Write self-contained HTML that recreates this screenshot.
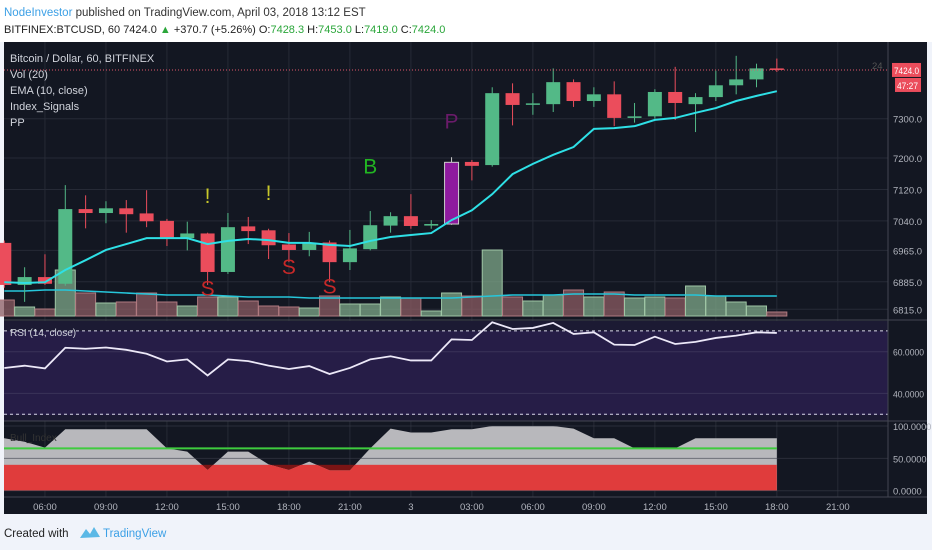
<!DOCTYPE html>
<html><head><meta charset="utf-8"><style>
html,body{margin:0;padding:0;background:#f0f3fa;width:932px;height:550px;overflow:hidden}
svg{display:block;font-family:"Liberation Sans",sans-serif}
</style></head><body>
<svg id="c" width="932" height="550" viewBox="0 0 932 550" xmlns="http://www.w3.org/2000/svg">
<rect x="0" y="0" width="932" height="42" fill="#ffffff"/>
<text x="4" y="16" font-size="11.5" fill="#333"><tspan fill="#3ca0e6">NodeInvestor</tspan> published on TradingView.com, April 03, 2018 13:12 EST</text>
<text x="4" y="33" font-size="11" fill="#222">BITFINEX:BTCUSD, 60  7424.0 <tspan fill="#2aa63a">▲</tspan> +370.7 (+5.26%)  O:<tspan fill="#2aa63a">7428.3</tspan>  H:<tspan fill="#2aa63a">7453.0</tspan>  L:<tspan fill="#2aa63a">7419.0</tspan>  C:<tspan fill="#2aa63a">7424.0</tspan></text>
<rect x="4" y="42" width="923" height="472" fill="#131722"/>
<g id="grid"></g>
<rect x="4" y="321" width="884" height="100" fill="#1c1a33"/>
<rect x="4" y="331" width="884" height="84" fill="#261d47"/>
<g id="plots"></g>
<line x1="4" y1="320" x2="927" y2="320" stroke="#434651"/>
<line x1="4" y1="421" x2="927" y2="421" stroke="#434651"/>
<line x1="4" y1="497" x2="927" y2="497" stroke="#434651"/>
<line x1="888" y1="42" x2="888" y2="497" stroke="#434651"/>
<g id="axes" font-size="9.5" fill="#b2b5be"></g>
<g font-size="11" fill="#d1d4dc">
<text x="10" y="62">Bitcoin / Dollar, 60, BITFINEX</text>
<text x="10" y="78">Vol (20)</text>
<text x="10" y="94">EMA (10, close)</text>
<text x="10" y="110">Index_Signals</text>
<text x="10" y="126">PP</text>
<text x="10" y="336" font-size="10">RSI (14, close)</text>
<text x="10" y="441" font-size="10" fill="#333">Bull_Index</text>
</g>
<text x="4" y="537" font-size="11.5" fill="#222">Created with</text>
<path d="M80 538 l6 -9 l4 5 l4 -7 l6 10 z" fill="#5bb8e6"/>
<text x="103" y="537" font-size="11.5" fill="#3ca0e6">TradingView</text>
</svg>
<script>
const opens=[6984,6877,6897,6880,7070,7060,7072,7059,7040,6996,7008,6910,7026,7016,6980,6966,6985,6935,6968,7028,7052,7028,7032,7190,7182,7365,7337,7337,7393,7345,7362,7302,7306,7368,7337,7355,7385,7400,7428];
const closes=[6877,6897,6880,7070,7060,7072,7057,7039,6996,7008,6910,7024,7014,6978,6966,6983,6935,6970,7029,7052,7027,7032,7189,7180,7365,7335,7339,7393,7345,7362,7302,7306,7368,7340,7355,7385,7400,7428,7424];
const highs=[6990,6922,6955,7131,7105,7090,7093,7118,7045,7038,7010,7060,7050,7020,7009,7012,6990,7017,7065,7062,7108,7042,7202,7195,7380,7390,7365,7428,7400,7380,7395,7340,7375,7432,7365,7422,7460,7440,7453];
const lows=[6870,6834,6877,6875,7021,7034,7010,7024,6976,6965,6877,6905,6981,6943,6935,6950,6884,6915,6965,7010,7020,7020,7030,7143,7178,7283,7310,7317,7330,7330,7281,7290,7300,7297,7266,7345,7362,7380,7419];
const ema=[6884,6882,6884,6915,6940,6966,6981,6996,6996,6996,6981,6989,6994,6991,6984,6984,6979,6976,6989,6999,7004,7009,7042,7067,7108,7159,7185,7208,7228,7274,7276,7281,7297,7302,7315,7327,7345,7358,7370];
const volume=[16,9,7,46,23,13,14,23,14,10,19,19,15,10,9,8,20,12,12,19,18,5,23,20,66,19,15,21,26,19,24,18,19,18,30,20,14,10,4];
const volMa=[25,25,26,26,25,24,23,22,21,21,21,20,19,19,19,18,18,18,18,18,18,18,18,19,20,21,21,21,22,22,22,21,21,21,21,20,20,20,20];
const rsi=[52.2,53.3,52,61.9,61.4,62,60.9,59,55.3,56.3,48.6,56.3,55.5,53.3,51.7,53.1,49.3,52.2,56.3,57.8,55.8,55.8,65.9,65.6,74.1,70.9,71.4,73.8,68.5,69.3,63.4,63.2,67.2,63.7,64.7,66.6,67.7,69.3,69];
const bull=[81,75.7,66.5,95,95,95,95,95,65.5,60.3,32,60.3,60.3,40.7,32,45,31.5,31.5,65.5,96,90,90,95,95,100,100,100,100,96,81,81,65.5,65.5,65.5,81,81,81,81,81];
const signals=[{i:10,t:"!",p:7085,c:"#c8c82a"},{i:13,t:"!",p:7093,c:"#c8c82a"},{i:10,t:"S",p:6850,c:"#c62828"},{i:14,t:"S",p:6905,c:"#c62828"},{i:16,t:"S",p:6855,c:"#c62828"},{i:18,t:"B",p:7160,c:"#22b522"},{i:22,t:"P",p:7275,c:"#6a1b6a"}];
const priceTicks=[7300,7200,7120,7040,6965,6885,6815];
const rsiTicks=[60,40];
const bullTicks=[100,50,0];
const timeLabels=["06:00","09:00","12:00","15:00","18:00","21:00","3","03:00","06:00","09:00","12:00","15:00","18:00","21:00"];
const timeHours=[2,5,8,11,14,17,20,23,26,29,32,35,38,41];

const NS="http://www.w3.org/2000/svg";
const X=i=>4.3+20.33*i;
const Y=p=>118.7+(7300-p)*0.393;
const VY=v=>316-v;
const RY=r=>351.7-(r-60)*2.085;
const BY=b=>490.7-b*0.647;
function mk(par,tag,at){const e=document.createElementNS(NS,tag);for(const k in at)e.setAttribute(k,at[k]);document.getElementById(par).appendChild(e);return e;}
timeHours.forEach(h=>{const g=mk("grid","line",{x1:X(h),x2:X(h),y1:42,y2:497,stroke:"#262a36"});

});
priceTicks.forEach(p=>{const g=mk("grid","line",{x1:4,x2:888,y1:Y(p),y2:Y(p),stroke:"#262a36"});

});
volume.forEach((v,i)=>{const up=closes[i]>=opens[i];const r=mk("plots","rect",{x:X(i)-10,y:VY(v),width:20,height:v,fill:up?"#7fa88a":"#8c5c63",stroke:up?"#9fc6a5":"#b07a80","fill-opacity":0.75});

});
const vm=mk("plots","polyline",{points:volMa.map((v,i)=>X(i)+","+VY(v)).join(" "),fill:"none",stroke:"#26c6da","stroke-width":1.6});


opens.forEach((o,i)=>{const c=closes[i];const up=c>=o;let col=up?"#53b987":"#eb4d5c";if(i===22)col="#8e1a9e";
const w=mk("plots","line",{x1:X(i),x2:X(i),y1:Y(highs[i]),y2:Y(lows[i]),stroke:i===22?"#cccccc":col,"stroke-width":1});


const t=Math.min(Y(o),Y(c));const h=Math.max(1.5,Math.abs(Y(o)-Y(c)));
const b=mk("plots","rect",{x:X(i)-7,y:t,width:14,height:h,fill:col,stroke:i===22?"#cccccc":"none"});

});
const el=mk("plots","polyline",{points:ema.map((v,i)=>X(i)+","+Y(v)).join(" "),fill:"none",stroke:"#2ee0e6","stroke-width":2});


signals.forEach(s=>{const t=mk("plots","text",{x:X(s.i),y:Y(s.p),fill:s.c,"font-size":21,"text-anchor":"middle"});t.textContent=s.t;

});
const lp=mk("plots","line",{x1:4,x2:888,y1:Y(7424),y2:Y(7424),stroke:"#e0576a","stroke-dasharray":"1,2"});


[70,30].forEach(r=>{const d=mk("plots","line",{x1:4,x2:888,y1:RY(r),y2:RY(r),stroke:"#d8d8e8","stroke-dasharray":"3,3"});

});
rsiTicks.forEach(r=>{const d=mk("plots","line",{x1:4,x2:888,y1:RY(r),y2:RY(r),stroke:"#3a3358"});

});
const rl=mk("plots","polyline",{points:rsi.map((v,i)=>X(i)+","+RY(v)).join(" "),fill:"none",stroke:"#ece8f8","stroke-width":1.8});


const x0=4,x1=X(bull.length-1);
const dr=mk("plots","rect",{x:x0,y:BY(40),width:x1-x0,height:BY(0)-BY(40),fill:"#7a1414"});


const pts=[x0+","+BY(0),x0+","+BY(bull[0])].concat(bull.map((v,i)=>X(i)+","+BY(v))).concat([x1+","+BY(0)]).join(" ");
const cp=mk("plots","clipPath",{id:"bclip"});const cpp=document.createElementNS(NS,"polygon");cpp.setAttribute("points",pts);cp.appendChild(cpp);
const ba=mk("plots","polygon",{points:pts,fill:"#b8b8bc"});


const br=mk("plots","rect",{x:x0,y:BY(40),width:x1-x0,height:BY(0)-BY(40),fill:"#e03c3c","clip-path":"url(#bclip)"});


const gl=mk("plots","line",{x1:x0,x2:x1,y1:BY(65.5),y2:BY(65.5),stroke:"#3ecb3e","stroke-width":2});


bullTicks.forEach(b=>{const d=mk("plots","line",{x1:4,x2:888,y1:BY(b),y2:BY(b),stroke:"#3a3e4a","stroke-opacity":0.6});

});
priceTicks.forEach(p=>{const t=mk("axes","text",{x:893,y:Y(p)+4,textLength:29,lengthAdjust:"spacingAndGlyphs"});t.textContent=p.toFixed(1);

});
rsiTicks.forEach(r=>{const t=mk("axes","text",{x:893,y:RY(r)+4,textLength:31,lengthAdjust:"spacingAndGlyphs"});t.textContent=r.toFixed(4);

});
bullTicks.forEach(b=>{const s=b.toFixed(4);const t=mk("axes","text",{x:893,y:BY(b)+4,textLength:s.length*4.8,lengthAdjust:"spacingAndGlyphs"});t.textContent=s;

});
timeLabels.forEach((l,k)=>{const t=mk("axes","text",{x:X(timeHours[k]),y:510,"text-anchor":"middle"});t.textContent=l;

});
const pb=mk("axes","rect",{x:892,y:Y(7424)-7,width:29,height:14,fill:"#eb4d5c"});


const pt=mk("axes","text",{x:894,y:Y(7424)+4,fill:"#fff",textLength:25,lengthAdjust:"spacingAndGlyphs"});pt.textContent="7424.0";


const cb=mk("axes","rect",{x:895,y:Y(7424)+8,width:26,height:14,fill:"#eb4d5c"});


const ct=mk("axes","text",{x:897,y:Y(7424)+19,fill:"#fff",textLength:21,lengthAdjust:"spacingAndGlyphs"});ct.textContent="47:27";


const t24=mk("axes","text",{x:872,y:Y(7424)-1,fill:"#555"});t24.textContent="24";


</script>
</body></html>
